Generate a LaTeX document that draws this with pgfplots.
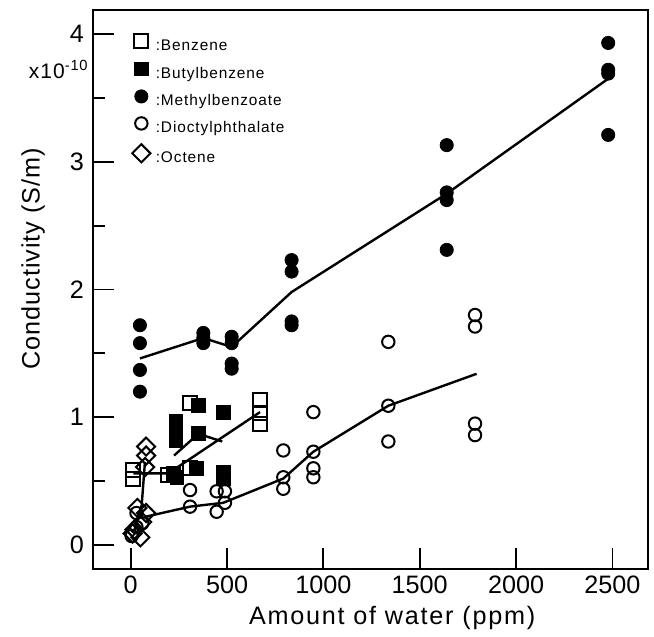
\documentclass[border=0pt]{standalone}
\usepackage{pgfplots}
\pgfplotsset{compat=1.18}
\usepackage{fontspec}
\setmainfont{Liberation Sans}
\begin{document}
\begin{tikzpicture}
\begin{axis}[
  scale only axis, width=277.5pt, height=279.5pt,
  xmin=-195.6, xmax=2684.5, ymin=-0.188, ymax=4.188,
  axis line style={line width=1pt},
  xtick={0,500,1000,1500,2000,2500},
  ytick={0,1,2,3,4},
  minor ytick={0.5,1.5,2.5,3.5},
  xtick pos=bottom, ytick pos=left,
  tick align=inside,
  major tick length=10.5pt, minor tick length=6pt,
  tick style={line width=0.9pt, black},
  /pgf/number format/assume math mode=true,
  /pgf/number format/set thousands separator={},
  ticklabel style={font=\fontsize{12.6}{14}\selectfont},
  yticklabel style={xshift=-1pt},
  xlabel={Amount of water (ppm)},
  ylabel={Conductivity (S/m)},
  every axis x label/.style={at={(rel axis cs:0.539,0)}, anchor=base, yshift=-28pt, font=\fontsize{12.6}{14}\selectfont\addfontfeatures{LetterSpace=7}},
  every axis y label/.style={at={(rel axis cs:0,0.555)}, anchor=center, rotate=90, yshift=30pt, font=\fontsize{12.6}{14}\selectfont\addfontfeatures{LetterSpace=4}},
  clip=false,
  legend style={at={(rel axis cs:0.0701,0.957)}, anchor=north west, draw=none, fill=none, inner sep=0pt,
    row sep=3.3pt, column sep=2.2pt,
    font=\fontsize{7.7}{9}\selectfont\addfontfeatures{LetterSpace=6},
    nodes={inner sep=0.5pt, text height=6pt, text depth=2pt}},
  legend cell align=left,
  mk/.style={only marks, legend image code/.code={\draw[##1] plot coordinates {(0pt,2.6pt)};}},
]
% lines
\addplot[forget plot, black, line width=1.2pt] coordinates {(48,1.46) (377,1.62) (524,1.55) (835,1.98) (1640,2.75) (2478,3.65)};
\addplot[forget plot, black, line width=1.2pt] coordinates {(74,0.22) (308,0.30) (480,0.33) (792,0.52) (948,0.73) (1337,1.09) (1795,1.34)};
\addplot[forget plot, black, line width=1.2pt] coordinates {(14,0.56) (195,0.56) (671,1.04)};
\addplot[forget plot, black, line width=1.2pt] coordinates {(225,0.70) (351,0.87) (475,0.81)};
\addplot[forget plot, black, line width=1.2pt] coordinates {(74,0.65) (57,0.31) (20,0.12)};
% Benzene
\addplot[mk, mark=square, mark size=3.5pt, mark options={draw=black, line width=1pt}] coordinates {
(14,0.59) (14,0.52) (195,0.55) (308,1.11) (308,0.60) (671,1.135) (671,1.03) (671,0.95)};
\addlegendentry{:Benzene}
% Butylbenzene
\addplot[mk, mark=square*, mark size=3.4pt, mark options={draw=black, fill=black, line width=0.6pt}] coordinates {
(221,0.56) (240,0.53) (235,0.82) (235,0.90) (235,0.97) (351,1.09) (342,0.60) (351,0.87) (480,1.04) (480,0.57) (480,0.52)};
\addlegendentry{:Butylbenzene}
% Methylbenzoate
\addplot[mk, mark=*, mark size=3.3pt, mark options={draw=black, fill=black}] coordinates {
(48,1.72) (48,1.58) (48,1.37) (48,1.20)
(377,1.66) (377,1.62) (377,1.58)
(524,1.63) (524,1.58) (524,1.42) (524,1.38)
(835,2.23) (835,2.14) (835,1.75) (835,1.72)
(1640,3.13) (1640,2.76) (1640,2.70) (1640,2.31)
(2478,3.93) (2478,3.72) (2478,3.69) (2478,3.21)};
\addlegendentry{:Methylbenzoate}
% Dioctylphthalate
\addplot[mk, mark=o, mark size=3.1pt, mark options={draw=black, line width=1pt}] coordinates {
(5,0.07) (30,0.25) (30,0.14) (60,0.17)
(308,0.43) (308,0.30) (446,0.42) (446,0.26) (489,0.42) (489,0.33)
(792,0.74) (792,0.53) (792,0.44)
(948,1.04) (948,0.73) (948,0.60) (948,0.53)
(1337,1.59) (1337,1.09) (1337,0.81)
(1787,1.80) (1787,1.71) (1787,0.95) (1787,0.86)};
\addlegendentry{:Dioctylphthalate}
% Octene
\addplot[mk, mark=square, mark size=3.2pt, mark options={draw=black, line width=1pt, rotate=45}] coordinates {
(80,0.77) (80,0.70) (75,0.61) (35,0.29) (80,0.25) (20,0.12) (50,0.06) (10,0.09) (60,0.18)};
\addlegendentry{:Octene}
\node[anchor=base east, inner sep=0pt, font=\fontsize{10.5}{12}\selectfont\addfontfeatures{LetterSpace=5}] at ([xshift=-2pt]rel axis cs:0,0.878) {x10\textsuperscript{-10}};
\end{axis}
\path (current axis.south west) ++(-46.5pt,-31pt) rectangle ([shift={(3pt,5pt)}]current axis.north east);
\end{tikzpicture}
\end{document}
